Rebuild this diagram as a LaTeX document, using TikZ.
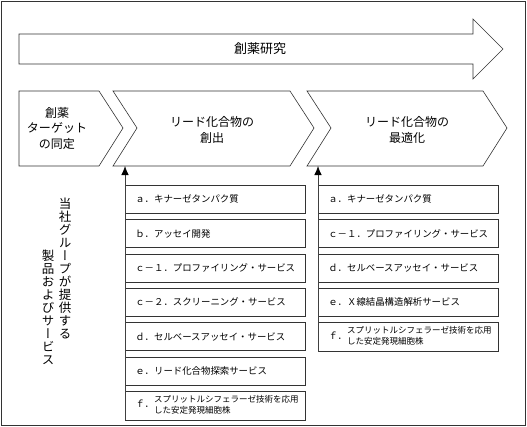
\documentclass[tikz,border=0pt]{standalone}
\usepackage{fontspec}
\setmainfont{Noto Sans CJK JP}
\newfontfamily\tatefont[RawFeature=+vert]{Noto Sans CJK JP}
\usepackage{tikz}
\usetikzlibrary{arrows.meta,positioning}

\tikzset{
  stage/.style={draw=black!80, line width=0.6pt},
  stagetext/.style={align=center, font=\fontsize{12}{15.5}\selectfont},
  svc/.style={draw=black!80, line width=0.6pt, minimum height=28pt, text width=160pt,
    inner xsep=10pt, inner ysep=0pt, align=left, font=\fontsize{9.4}{11}\selectfont},
  feed/.style={draw=black!75, line width=0.8pt, -{Latex[length=9pt,width=7.5pt,color=black]}},
  tate/.style={align=center, inner sep=0pt, font=\tatefont\fontsize{12.5}{13}\selectfont}
}

\begin{document}
\begin{tikzpicture}[x=1pt,y=-1pt]
\useasboundingbox (0,0) rectangle (527,426);
\draw[black!80, line width=0.6pt] (1,1) rectangle (525,425);

\draw[stage] (19,34) -- (473,34) -- (473,19) -- (503,49) -- (473,79) -- (473,64) -- (19,64) -- cycle;
\node[font=\fontsize{13}{15}\selectfont] (research) at (260,49) {創薬研究};

\draw[stage] (19,91) -- (99,91) -- (123,128) -- (99,166) -- (19,166) -- cycle;
\node[stagetext] (target) at (57,128) {創薬\\ターゲット\\の同定};
\draw[stage] (113,91) -- (290,91) -- (314,128) -- (290,166) -- (113,166) -- (137,128) -- cycle;
\node[stagetext] (lead) at (212,130) {リード化合物の\\創出};
\draw[stage] (307,91) -- (483,91) -- (507,128) -- (483,166) -- (307,166) -- (331,128) -- cycle;
\node[stagetext] (opt) at (407,130) {リード化合物の\\最適化};
\coordinate (leadbot) at (125,166);
\coordinate (optbot) at (318,166);

\node[tate] (group) at (65,268.5) {当\\社\\グ\\ル\\ー\\プ\\が\\提\\供\\す\\る};
\node[tate] (products) at (48,307.5) {製\\品\\お\\よ\\び\\サ\\ー\\ビ\\ス};

\node[svc, anchor=north west] (la) at (125,185) {ａ．キナーゼタンパク質};
\node[svc, below=5.7pt of la] (lb) {ｂ．アッセイ開発};
\node[svc, below=5.7pt of lb] (lc1) {ｃ－１．プロファイリング・サービス};
\node[svc, below=5.7pt of lc1] (lc2) {ｃ－２．スクリーニング・サービス};
\node[svc, below=5.7pt of lc2] (ld) {ｄ．セルベースアッセイ・サービス};
\node[svc, below=5.7pt of ld] (le) {ｅ．リード化合物探索サービス};
\node[svc, minimum height=29pt, below=5.7pt of le] (lf) {ｆ．{\fontsize{8.5}{11}\selectfont\begin{tabular}[c]{@{}l@{}}スプリットルシフェラーゼ技術を応用\\した安定発現細胞株\end{tabular}}};

\node[svc, anchor=north west] (ra) at (318,185) {ａ．キナーゼタンパク質};
\node[svc, below=5.7pt of ra] (rc1) {ｃ－１．プロファイリング・サービス};
\node[svc, below=5.7pt of rc1] (rd) {ｄ．セルベースアッセイ・サービス};
\node[svc, below=5.7pt of rd] (re) {ｅ．Ｘ線結晶構造解析サービス};
\node[svc, minimum height=29pt, below=5.7pt of re] (rf) {ｆ．{\fontsize{8.5}{11}\selectfont\begin{tabular}[c]{@{}l@{}}スプリットルシフェラーゼ技術を応用\\した安定発現細胞株\end{tabular}}};

\draw[feed] (lf.south west) -- (leadbot);
\draw[feed] (rf.south west) -- (optbot);
\end{tikzpicture}
\end{document}
